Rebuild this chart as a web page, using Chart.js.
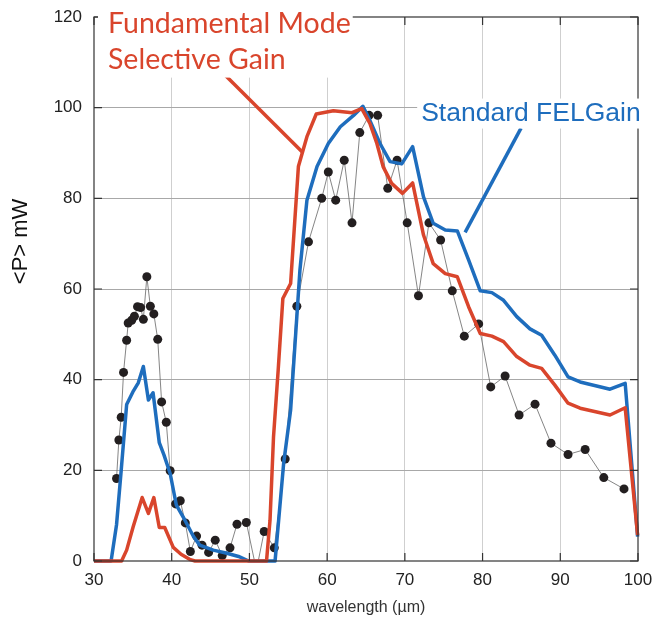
<!DOCTYPE html>
<html>
<head>
<meta charset="utf-8">
<script src="https://cdn.jsdelivr.net/npm/chart.js@4"></script>
<style>
  html, body { margin: 0; padding: 0; background: #fff; }
  #wrap { width: 653px; height: 635px; }
</style>
</head>
<body>
<div id="wrap"><canvas id="chart" width="653" height="635"></canvas></div>
<script>
/* measured points (black dots + thin line) */
const dotX = [32.9, 33.2, 33.5, 33.8, 34.2, 34.4, 34.85, 35.2, 35.6, 36.0, 36.35, 36.8, 37.25, 37.7, 38.2, 38.7, 39.3, 39.8, 40.5, 41.1, 41.75, 42.4, 43.2, 43.9, 44.75, 45.6, 46.5, 47.5, 48.4, 49.6, 50.9, 51.9, 53.2, 54.6, 56.1, 57.6, 59.3, 60.15, 61.1, 62.2, 63.2, 64.2, 65.4, 66.5, 67.8, 69.0, 70.3, 71.75, 73.1, 74.6, 76.1, 77.65, 79.5, 81.05, 82.9, 84.7, 86.75, 88.8, 91.0, 93.2, 95.6, 98.2];
const dotY = [18.2, 26.7, 31.7, 41.6, 48.7, 52.5, 53.1, 54.0, 56.1, 55.9, 53.3, 62.7, 56.2, 54.5, 48.9, 35.1, 30.6, 19.9, 12.6, 13.3, 8.4, 2.1, 5.5, 3.5, 1.9, 4.6, 1.2, 2.9, 8.1, 8.5, -2, 6.5, 2.9, 22.5, 56.2, 70.4, 80.0, 85.8, 79.6, 88.4, 74.6, 94.5, 98.3, 98.3, 82.2, 88.4, 74.6, 58.5, 74.6, 70.8, 59.6, 49.6, 52.3, 38.4, 40.8, 32.2, 34.6, 26.0, 23.5, 24.6, 18.4, 15.9];

/* Standard FEL gain (blue) */
const stdX = [30, 32.2, 32.9, 33.5, 34.2, 35.0, 35.7, 36.35, 37.0, 37.6, 38.4, 39.0, 39.8, 40.6, 41.7, 42.8, 43.6, 45.35, 47.1, 48.6, 49.9, 53.3, 54.4, 55.3, 56.5, 57.4, 58.7, 60.15, 61.7, 63.4, 64.6, 65.5, 66.8, 68.1, 69.6, 71.0, 72.4, 73.65, 75.2, 76.75, 78.2, 79.7, 81.2, 82.7, 84.4, 86.1, 87.6, 89.3, 91.0, 92.55, 96.4, 98.35, 99.95];
const stdY = [0, 0, 8, 20, 34.5, 37.3, 39.3, 42.9, 35.5, 37.1, 26.1, 23.4, 19.3, 12.3, 9, 5.4, 3.5, 2.4, 1.7, 1, 0, 0, 21.5, 33.3, 64.2, 79.6, 87, 92.1, 95.8, 98.3, 100.3, 97.2, 92.1, 88.1, 87.6, 91.4, 80.3, 74.5, 73, 72.8, 66.4, 59.6, 59.2, 57.5, 53.9, 51.2, 49.8, 45.4, 40.6, 39.5, 37.9, 39.2, 5.4];

/* Fundamental mode selective gain (red) */
const fmX = [30, 33.55, 34.2, 35.05, 36.2, 37.0, 37.7, 38.4, 39.1, 40.2, 41.2, 42.4, 43.0, 52.2, 52.65, 53.1, 53.7, 54.3, 55.3, 56.3, 57.4, 58.6, 60.8, 63.2, 64.45, 65.5, 66.4, 67.2, 68.3, 69.7, 71.0, 72.4, 73.65, 75.2, 76.75, 78.2, 79.7, 81.2, 82.7, 84.4, 86.1, 87.6, 89.3, 91.0, 92.55, 96.4, 98.35, 99.95];
const fmY = [0, 0, 2.4, 7.6, 14.0, 10.5, 14.0, 7.4, 7.4, 3, 1.5, 0.3, 0, 0, 9, 27.4, 42.1, 57.9, 61.2, 87, 93.6, 98.6, 99.3, 98.9, 99.8, 96.5, 92.1, 87, 83.3, 81.1, 83.4, 71.9, 65.6, 63.4, 62.7, 56.1, 50.2, 49.6, 48.4, 45.1, 43.2, 42.5, 38.8, 34.8, 33.7, 32.2, 33.8, 5.7];

/* label pointer lines, in data units */
const fmPointerX = [46.5, 56.8];
const fmPointerY = [107.8, 90.2];
const stdPointerX = [77.75, 84.95];
const stdPointerY = [72.5, 95.5];

const xTicks = [30, 40, 50, 60, 70, 80, 90, 100];
const yTicks = [0, 20, 40, 60, 80, 100, 120];

const RED = '#d9452c';
const BLUE = '#1e6dbd';

function pts(xs, ys) {
  return xs.map((x, i) => ({ x: x, y: ys[i] }));
}

/* frame, inward ticks, labels */
const decorations = {
  id: 'decorations',
  afterDatasetsDraw(chart) {
    const { ctx, chartArea: a, scales: { x, y } } = chart;
    ctx.save();
    ctx.strokeStyle = '#333';
    ctx.lineWidth = 1.2;
    ctx.strokeRect(a.left, a.top, a.right - a.left, a.bottom - a.top);
    ctx.beginPath();
    xTicks.forEach(v => {
      const px = x.getPixelForValue(v);
      ctx.moveTo(px, a.bottom); ctx.lineTo(px, a.bottom - 8);
      ctx.moveTo(px, a.top); ctx.lineTo(px, a.top + 8);
    });
    yTicks.forEach(v => {
      const py = y.getPixelForValue(v);
      ctx.moveTo(a.left, py); ctx.lineTo(a.left + 8, py);
      ctx.moveTo(a.right, py); ctx.lineTo(a.right - 8, py);
    });
    ctx.stroke();

    // Fundamental Mode label
    ctx.font = '28.5px Lato, "Liberation Sans", sans-serif';
    ctx.textBaseline = 'middle';
    ctx.textAlign = 'left';
    const fx = x.getPixelForValue(31.8);
    const fy1 = y.getPixelForValue(118.5);
    const fy2 = y.getPixelForValue(110.6);
    const w1 = ctx.measureText('Fundamental Mode').width;
    ctx.fillStyle = '#fff';
    ctx.fillRect(fx - 10, fy1 - 14, w1 + 12, fy2 - fy1 + 32);
    ctx.fillStyle = RED;
    ctx.fillText('Fundamental Mode', fx, fy1);
    ctx.fillText('Selective Gain', fx, fy2);

    // Standard FEL gain label
    ctx.font = '26.5px "Liberation Sans", Arial, sans-serif';
    const sx = x.getPixelForValue(72.1);
    const sy = y.getPixelForValue(98.7);
    const ws = ctx.measureText('Standard FELGain').width;
    ctx.fillStyle = '#fff';
    ctx.fillRect(sx - 4, sy - 15, ws + 6, 30);
    ctx.fillStyle = BLUE;
    ctx.fillText('Standard FELGain', sx, sy);

    // y title
    ctx.fillStyle = '#111';
    ctx.font = '22px "Liberation Sans", Arial, sans-serif';
    ctx.translate(21, y.getPixelForValue(70.5));
    ctx.rotate(-Math.PI / 2);
    ctx.textAlign = 'center';
    ctx.fillText('<P> mW', 0, 0);
    ctx.restore();
  }
};

new Chart(document.getElementById('chart'), {
  type: 'line',
  data: {
    datasets: [
      {
        label: 'FEL pointer',
        data: pts(stdPointerX, stdPointerY),
        borderColor: BLUE, borderWidth: 3.5, pointRadius: 0
      },
      {
        label: 'FM pointer',
        data: pts(fmPointerX, fmPointerY),
        borderColor: RED, borderWidth: 3.5, pointRadius: 0
      },
      {
        label: 'Fundamental Mode Selective Gain',
        data: pts(fmX, fmY),
        borderColor: RED, borderWidth: 3.5, pointRadius: 0,
        borderJoinStyle: 'round'
      },
      {
        label: 'Standard FEL Gain',
        data: pts(stdX, stdY),
        borderColor: BLUE, borderWidth: 3.5, pointRadius: 0,
        borderJoinStyle: 'round'
      },
      {
        label: 'measured',
        data: pts(dotX, dotY),
        borderColor: '#666', borderWidth: 0.8,
        pointRadius: 4.5, pointBackgroundColor: '#231f20',
        pointBorderWidth: 0,
        clip: 0
      }
    ]
  },
  options: {
    responsive: false,
    animation: false,
    clip: false,
    layout: { padding: { top: 17, right: 15, left: 0, bottom: 0 } },
    plugins: { legend: { display: false }, tooltip: { enabled: false } },
    scales: {
      x: {
        type: 'linear', min: 30, max: 100,
        afterFit: s => { s.height = 74; s.paddingLeft = 0; s.paddingRight = 0; },
        afterBuildTicks: s => { s.ticks = xTicks.map(v => ({ value: v })); },
        ticks: { font: { size: 17, family: '"Liberation Sans", Arial' }, color: '#222', padding: 9, maxRotation: 0 },
        grid: {
          drawTicks: false,
          color: c => (c.tick && (c.tick.value === 30 || c.tick.value === 100)) ? 'rgba(0,0,0,0)' : '#cfcfcf'
        },
        border: { display: false },
        title: {
          display: true, text: 'wavelength (µm)', color: '#333',
          font: { size: 16, family: '"Liberation Sans", Arial' },
          padding: { top: 0, bottom: 18 }
        }
      },
      y: {
        min: 0, max: 120,
        afterFit: s => { s.width = 94; s.paddingTop = 0; s.paddingBottom = 0; },
        afterBuildTicks: s => { s.ticks = yTicks.map(v => ({ value: v })); },
        ticks: { font: { size: 17, family: '"Liberation Sans", Arial' }, color: '#222', padding: 12 },
        grid: {
          drawTicks: false,
          color: c => (c.tick && (c.tick.value === 0 || c.tick.value === 120)) ? 'rgba(0,0,0,0)' : '#a8a8a8'
        },
        border: { display: false }
      }
    }
  },
  plugins: [decorations]
});
</script>
</body>
</html>
